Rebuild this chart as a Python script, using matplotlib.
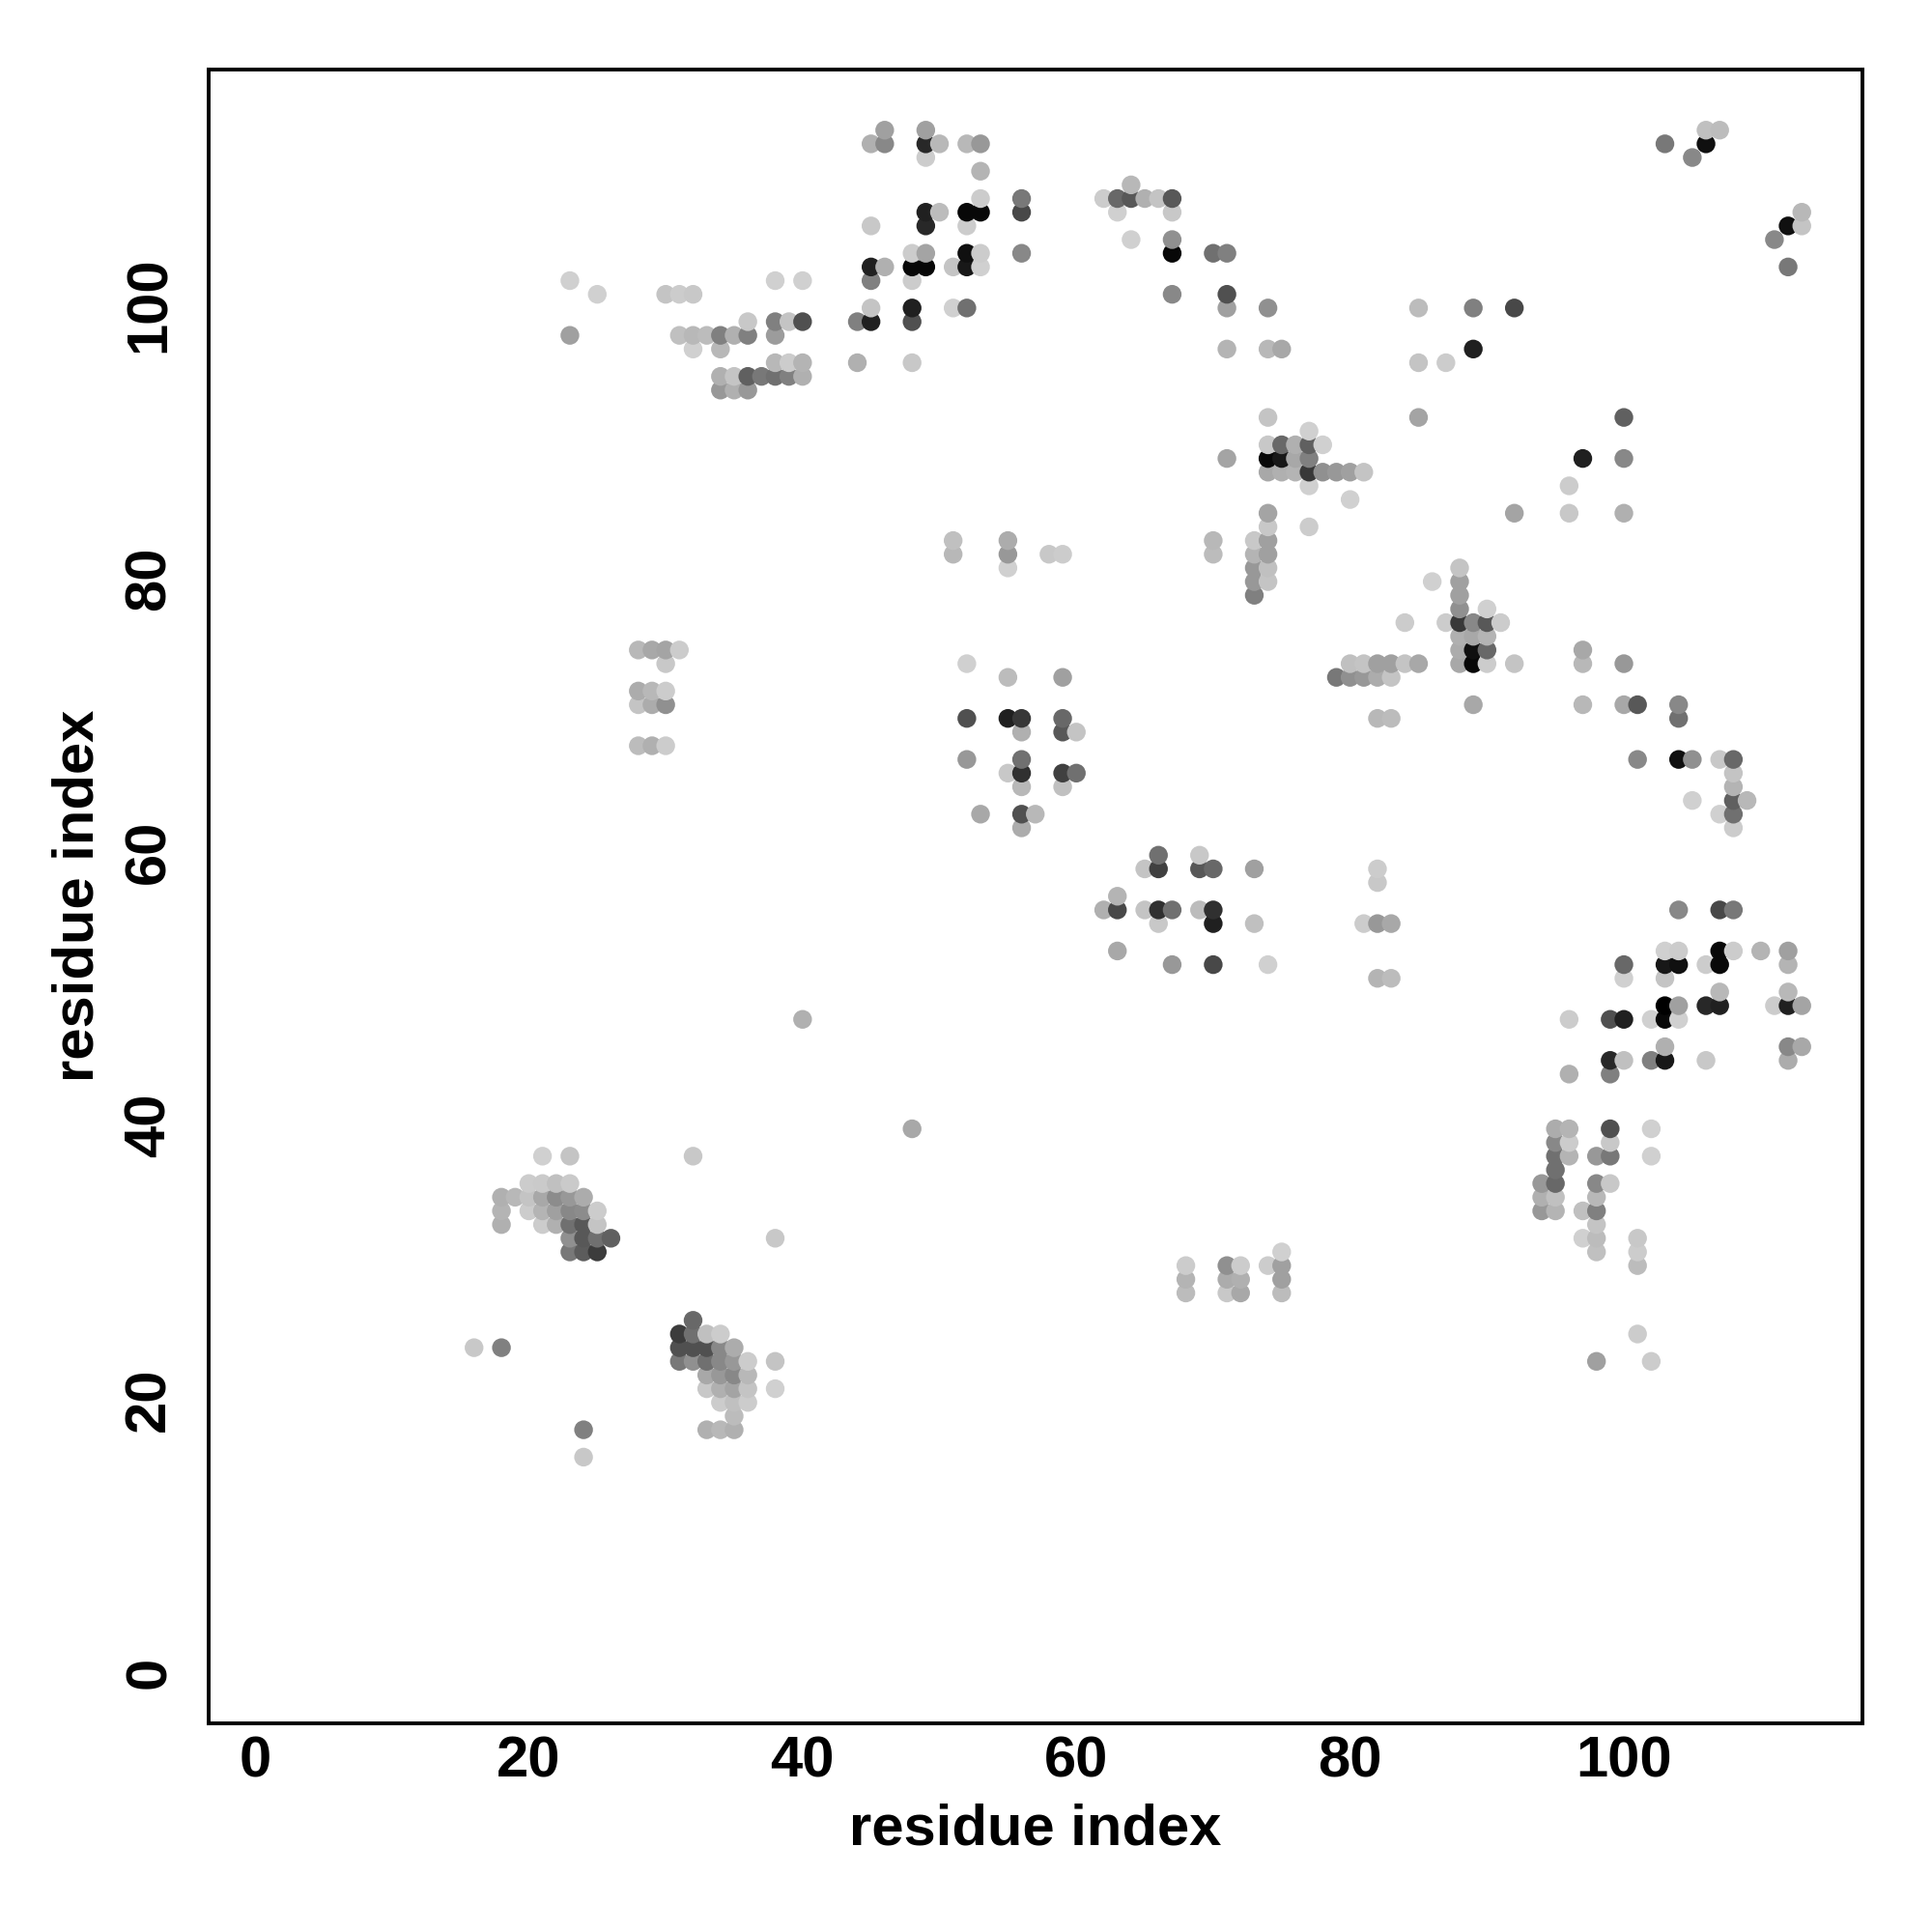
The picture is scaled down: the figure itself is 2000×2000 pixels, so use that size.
import numpy as np
import matplotlib
matplotlib.use('Agg')
import matplotlib.pyplot as plt
from matplotlib.transforms import ScaledTranslation

plt.rcParams['font.family'] = ['Liberation Sans', 'DejaVu Sans']

# contacts read row by row: one y value, then its x values and grey levels (0-255)
y_rows = [113, 112, 111, 110, 109, 108, 107, 106, 105, 104, 103, 102, 101, 100,
          99, 98, 97, 96, 95, 94, 92, 91, 90, 89, 88, 87, 86, 85, 84, 83, 82, 81, 80,
          79, 78, 77, 76, 75, 74, 73, 72, 71, 70, 69, 68, 67, 66, 65, 64, 63, 62, 60,
          59, 58, 57, 56, 55, 53, 52, 51, 50, 49, 48, 46, 45, 44, 40,
          39, 38, 37, 36, 35, 34, 33, 32, 31, 30, 29, 28, 26, 25, 24, 23, 22, 21, 20,
          19, 18, 16]

x_rows = [
    [46, 49, 106, 107],
    [45, 46, 49, 50, 52, 53, 103, 106],
    [49, 105],
    [53],
    [64],
    [53, 56, 62, 63, 64, 65, 66, 67],
    [49, 50, 52, 53, 56, 63, 67, 113],
    [45, 49, 52, 112, 113],
    [64, 67, 111],
    [48, 49, 52, 53, 56, 67, 70, 71],
    [45, 46, 48, 49, 51, 52, 53, 112],
    [23, 38, 40, 45, 48],
    [25, 30, 31, 32, 67, 71],
    [45, 48, 51, 52, 71, 74, 85, 89, 92],
    [36, 38, 39, 40, 44, 45, 48],
    [23, 31, 32, 33, 34, 35, 36, 38],
    [32, 34, 71, 74, 75, 89],
    [38, 39, 40, 44, 48, 85, 87],
    [34, 35, 36, 37, 38, 39, 40],
    [34, 35, 36],
    [74, 85, 100],
    [77],
    [74, 75, 76, 77, 78],
    [71, 74, 75, 76, 77, 97, 100],
    [74, 75, 76, 77, 78, 79, 80, 81],
    [77, 96],
    [80],
    [74, 92, 96, 100],
    [74, 77],
    [51, 55, 70, 73, 74],
    [51, 55, 58, 59, 70, 73, 74],
    [55, 73, 74, 88],
    [73, 74, 86, 88],
    [73, 88],
    [88, 90],
    [84, 87, 88, 89, 90, 91],
    [88, 89, 90],
    [28, 29, 30, 31, 88, 89, 90, 97],
    [30, 52, 80, 81, 82, 83, 84, 85, 88, 89, 90, 92, 97, 100],
    [55, 59, 79, 80, 81, 82, 83],
    [28, 29, 30],
    [28, 29, 30, 89, 97, 100, 101, 104],
    [52, 55, 56, 59, 82, 83, 104],
    [56, 59, 60],
    [28, 29, 30],
    [52, 56, 101, 104, 105, 107, 108],
    [55, 56, 59, 60, 108],
    [56, 59, 108],
    [105, 108, 109],
    [53, 56, 57, 107, 108],
    [56, 108],
    [66, 69],
    [65, 66, 69, 70, 73, 82],
    [82],
    [63],
    [62, 63, 65, 66, 67, 69, 70, 104, 107, 108],
    [66, 70, 73, 81, 82, 83],
    [63, 103, 104, 107, 108, 110, 112],
    [67, 70, 74, 100, 103, 104, 106, 107, 112],
    [82, 83, 100, 103],
    [107, 112],
    [103, 104, 106, 107, 111, 112, 113],
    [40, 96, 99, 100, 102, 103, 104],
    [103, 112, 113],
    [99, 100, 102, 103, 106, 112],
    [96, 99],
    [48, 95, 96, 99, 102],
    [95, 96, 99],
    [21, 23, 32, 95, 96, 98, 99, 102],
    [95],
    [20, 21, 22, 23, 94, 95, 98, 99],
    [18, 19, 20, 21, 22, 23, 24, 94, 95, 98],
    [18, 20, 21, 22, 23, 24, 25, 94, 95, 97, 98],
    [18, 21, 22, 23, 24, 25, 98],
    [23, 24, 25, 26, 38, 97, 98, 101],
    [23, 24, 25, 75, 98, 101],
    [68, 71, 72, 74, 75, 101],
    [68, 71, 72, 75],
    [68, 71, 72, 75],
    [32],
    [31, 32, 33, 34, 101],
    [16, 18, 31, 32, 33, 34, 35],
    [31, 32, 33, 34, 35, 36, 38, 98, 102],
    [33, 34, 35, 36],
    [33, 34, 35, 36, 38],
    [34, 35, 36],
    [35],
    [24, 33, 34, 35],
    [24],
]

shade_rows = [
    [0xa0, 0xa0, 0xc0, 0xbc],
    [0xb0, 0x88, 0x28, 0xb8, 0xb8, 0x98, 0x78, 0x10],
    [0xcc, 0x88],
    [0xb4],
    [0xb8],
    [0xcc, 0x78, 0xcc, 0x68, 0x58, 0xb0, 0xc4, 0x58],
    [0x20, 0xbc, 0x08, 0x08, 0x48, 0xd0, 0xc8, 0xb8],
    [0xc8, 0x28, 0xcc, 0x10, 0xc4],
    [0xd0, 0x90, 0x88],
    [0xcc, 0xa4, 0x10, 0xcc, 0x88, 0x08, 0x70, 0x80],
    [0x20, 0xb0, 0x08, 0x08, 0xc4, 0x18, 0xd0, 0x78],
    [0xd0, 0xd0, 0xd0, 0x80, 0xcc],
    [0xd0, 0xc4, 0xcc, 0xc8, 0x88, 0x50],
    [0xc4, 0x20, 0xd0, 0x70, 0xa0, 0x90, 0xbc, 0x80, 0x48],
    [0xc8, 0x80, 0xc4, 0x50, 0x80, 0x20, 0x50],
    [0xa0, 0xc0, 0xb8, 0xbc, 0x80, 0xb0, 0x80, 0x9c],
    [0xd0, 0xb8, 0xb4, 0xb8, 0xa8, 0x20],
    [0xb8, 0xcc, 0xb4, 0xb0, 0xc8, 0xc4, 0xcc],
    [0xb0, 0xc4, 0x60, 0x78, 0x70, 0x80, 0xb0],
    [0x98, 0xb0, 0x98],
    [0xc4, 0xa4, 0x60],
    [0xd0],
    [0xc8, 0x68, 0xb0, 0x60, 0xd0],
    [0xa4, 0x08, 0x18, 0xa8, 0x80, 0x20, 0x88],
    [0xa8, 0xb0, 0xb4, 0x38, 0x90, 0x98, 0xa0, 0xc4],
    [0xd0, 0xcc],
    [0xd0],
    [0xa4, 0xa4, 0xc8, 0xb0],
    [0xc8, 0xcc],
    [0xc0, 0xac, 0xb8, 0xc8, 0xa0],
    [0xb8, 0x98, 0xc8, 0xcc, 0xbc, 0xb4, 0xa0],
    [0xd0, 0x98, 0xc0, 0xc4],
    [0x98, 0xc4, 0xd0, 0xa0],
    [0x80, 0xa0],
    [0x90, 0xd0],
    [0xcc, 0xcc, 0x38, 0x88, 0x58, 0xcc],
    [0xb0, 0xa8, 0xb4],
    [0xb8, 0xa8, 0xa4, 0xcc, 0xac, 0x10, 0x68, 0xa8],
    [0xc8, 0xd0, 0xc0, 0xc4, 0xa0, 0xa0, 0xc4, 0xa8, 0xa8, 0x08, 0xcc, 0xc4, 0xb8, 0x98],
    [0xbc, 0xa0, 0x78, 0x90, 0x98, 0xac, 0xc4],
    [0xac, 0xb8, 0xcc],
    [0xc4, 0xac, 0x90, 0xa8, 0xb8, 0xa8, 0x58, 0x88],
    [0x50, 0x20, 0x38, 0x68, 0xb8, 0xbc, 0x70],
    [0xb0, 0x58, 0xc4],
    [0xbc, 0xb0, 0xcc],
    [0x98, 0x70, 0x88, 0x10, 0x90, 0xc8, 0x68],
    [0xc8, 0x30, 0x40, 0x70, 0xc4],
    [0xb8, 0xc0, 0xb4],
    [0xd0, 0x60, 0xb8],
    [0xa8, 0x50, 0xb8, 0xd0, 0x70],
    [0xac, 0xcc],
    [0x70, 0xc8],
    [0xc4, 0x40, 0x58, 0x68, 0xa0, 0xcc],
    [0xc8],
    [0xb4],
    [0xb0, 0x48, 0xc4, 0x30, 0x70, 0xbc, 0x30, 0x88, 0x48, 0x78],
    [0xc8, 0x20, 0xc0, 0xcc, 0x98, 0xa8],
    [0xa8, 0xd0, 0xcc, 0x08, 0xcc, 0xb4, 0xa0],
    [0x98, 0x48, 0xd0, 0x68, 0x18, 0x10, 0xcc, 0x08, 0xb4],
    [0xb4, 0xbc, 0xd0, 0xc4],
    [0xb8, 0xb8],
    [0x00, 0xa0, 0x28, 0x20, 0xcc, 0x20, 0xa4],
    [0xb0, 0xcc, 0x50, 0x20, 0xd0, 0x08, 0xd0],
    [0xb0, 0x88, 0xa8],
    [0x28, 0xc0, 0x80, 0x18, 0xc8, 0xac],
    [0xb0, 0x80],
    [0xa8, 0xac, 0xb4, 0x50, 0xd0],
    [0x88, 0xcc, 0xc8],
    [0xd0, 0xc4, 0xc8, 0x70, 0xb4, 0x98, 0x78, 0xd0],
    [0x70],
    [0xcc, 0xca, 0xc0, 0xca, 0x98, 0x68, 0x88, 0xc8],
    [0xb0, 0xb8, 0xc4, 0xa8, 0x8c, 0x98, 0xac, 0xb0, 0xc0, 0xb8],
    [0xb4, 0xcc, 0xb4, 0xa0, 0x88, 0x8c, 0xcc, 0x98, 0xb4, 0xc0, 0x80],
    [0xb0, 0xcc, 0xb0, 0x70, 0x58, 0xc4, 0xc4],
    [0x90, 0x58, 0x70, 0x60, 0xc8, 0xd0, 0xbc, 0xc8],
    [0x78, 0x5c, 0x3c, 0xd0, 0xc0, 0xcc],
    [0xcc, 0x90, 0xcc, 0xcc, 0xa0, 0xbc],
    [0xb4, 0xac, 0xb0, 0xa0],
    [0xbc, 0xc8, 0xa8, 0xbc],
    [0x68],
    [0x3c, 0x70, 0xc0, 0xcc, 0xcc],
    [0xc8, 0x80, 0x50, 0x50, 0x50, 0x88, 0xac],
    [0x78, 0x90, 0x70, 0x88, 0x98, 0xcc, 0xc4, 0xa0, 0xcc],
    [0xa8, 0x98, 0x88, 0xb8],
    [0xc8, 0xb0, 0xa4, 0xc4, 0xd0],
    [0xcc, 0xc0, 0xcc],
    [0xbc],
    [0x80, 0xb0, 0xb8, 0xb0],
    [0xc8],
]

x_ticks = [0, 20, 40, 60, 80, 100]
y_ticks = [0, 20, 40, 60, 80, 100]

x = np.concatenate(x_rows)
y = np.concatenate([np.full(len(r), v) for r, v in zip(x_rows, y_rows)])
shade = np.concatenate(shade_rows) / 255.0

# points overlap in order of x then y
order = np.lexsort((y, x))
colors = [(g, g, g) for g in shade[order]]

fig = plt.figure(figsize=(20, 20), dpi=100)
ax = fig.add_axes([216 / 2000, 1 - 1784 / 2000, (1928 - 216) / 2000, (1784 - 72) / 2000])
ax.scatter(x[order], y[order], s=195, c=colors, linewidths=0, clip_on=False)

ax.set_xlim(-3.39, 117.43)
ax.set_ylim(-3.46, 117.43)
ax.set_xticks(x_ticks)
ax.set_yticks(y_ticks)
ax.tick_params(length=0, labelsize=43)
ax.tick_params(axis='x', pad=9)
ax.tick_params(axis='y', pad=24)
for t in ax.get_xticklabels() + ax.get_yticklabels():
    t.set_fontweight('bold')
# rotated labels sit a little low, lift them
lift = ScaledTranslation(0, 3.5 / 100, fig.dpi_scale_trans)
for t in ax.get_yticklabels():
    t.set_rotation(90)
    t.set_va('center')
    t.set_transform(t.get_transform() + lift)
for s in ax.spines.values():
    s.set_linewidth(2.8)

fig.text(1072 / 2000, 1 - 1893.5 / 2000, 'residue index', fontsize=43, fontweight='bold',
         ha='center', va='center')
fig.text(81 / 2000, 1 - 927 / 2000, 'residue index', fontsize=43, fontweight='bold',
         ha='center', va='center', rotation=90)

fig.savefig('out.png', dpi=100)
